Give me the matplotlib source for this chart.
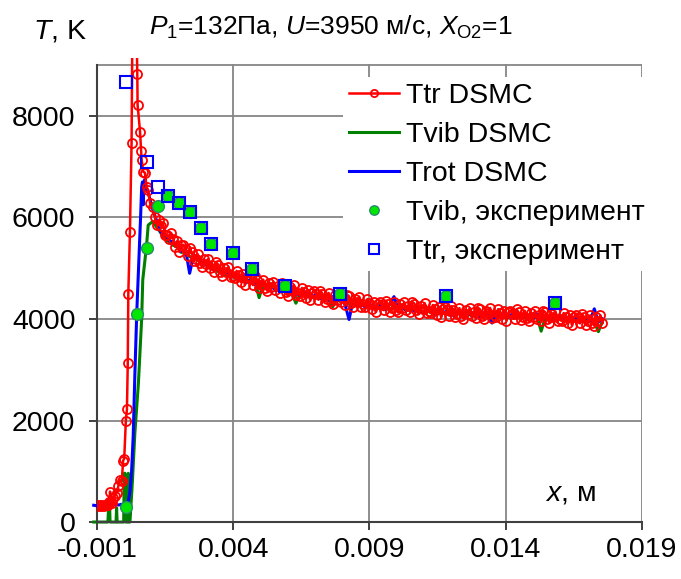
import matplotlib
matplotlib.use("Agg")
import matplotlib.pyplot as plt

plt.rcParams["font.family"] = "Liberation Sans"
plt.rcParams["mathtext.fontset"] = "custom"
plt.rcParams["mathtext.rm"] = "Liberation Sans"
plt.rcParams["mathtext.it"] = "Liberation Sans:italic"
plt.rcParams["mathtext.bf"] = "Liberation Sans:bold"

# ---------------------------------------------------------------------------
# Data
# ---------------------------------------------------------------------------

x_ticks = [-0.001, 0.004, 0.009, 0.014, 0.019]
x_tick_labels = ["-0.001", "0.004", "0.009", "0.014", "0.019"]
y_ticks = [0, 2000, 4000, 6000, 8000]
y_tick_labels = ["0", "2000", "4000", "6000", "8000"]

# shock front, Ttr DSMC
x_tr_shock = [-0.00100, -0.00095, -0.00090, -0.00085, -0.00080, -0.00075, -0.00070, -0.00065,
              -0.00060, -0.00055, -0.00052, -0.00048, -0.00044, -0.00040, -0.00034, -0.00028,
              -0.00022, -0.00015, -0.00009, -0.00004, 0.00000, 0.00006, 0.00010, 0.00013,
              0.00015, 0.00021, 0.00027, 0.00030, 0.00045, 0.00048, 0.00049, 0.00058,
              0.00062, 0.00064, 0.00070, 0.00076, 0.00082, 0.00088, 0.00095]
t_tr_shock = [330, 320, 335, 325, 330, 320, 335, 330,
              340, 390, 600, 420, 380, 470, 520, 570,
              700, 830, 800, 1210, 1250, 2000, 2220, 3130,
              4500, 5720, 7470, 9800, 9800, 8820, 8220, 7690,
              7300, 7130, 6900, 6880, 6600, 6540, 6280]

# relaxation zone, Ttr DSMC (fine cells)
x_tr_down = [
    0.001050, 0.001125, 0.001200, 0.001275, 0.001350, 0.001425, 0.001500, 0.001575,
    0.001650, 0.001725, 0.001800, 0.001875, 0.001950, 0.002025, 0.002100, 0.002175,
    0.002250, 0.002325, 0.002400, 0.002475, 0.002550, 0.002625, 0.002700, 0.002775,
    0.002850, 0.002925, 0.003000, 0.003075, 0.003150, 0.003225, 0.003300, 0.003375,
    0.003450, 0.003525, 0.003600, 0.003675, 0.003750, 0.003825, 0.003900, 0.003975,
    0.004050, 0.004125, 0.004200, 0.004275, 0.004350, 0.004425, 0.004500, 0.004575,
    0.004650, 0.004725, 0.004800, 0.004875, 0.004950, 0.005025, 0.005100, 0.005175,
    0.005250, 0.005325, 0.005400, 0.005475, 0.005550, 0.005625, 0.005700, 0.005775,
    0.005850, 0.005925, 0.006000, 0.006075, 0.006150, 0.006225, 0.006300, 0.006375,
    0.006450, 0.006525, 0.006600, 0.006675, 0.006750, 0.006825, 0.006900, 0.006975,
    0.007050, 0.007125, 0.007200, 0.007275, 0.007350, 0.007425, 0.007500, 0.007575,
    0.007650, 0.007725, 0.007800, 0.007875, 0.007950, 0.008025, 0.008100, 0.008175,
    0.008250, 0.008325, 0.008400, 0.008475, 0.008550, 0.008625, 0.008700, 0.008775,
    0.008850, 0.008925, 0.009000, 0.009075, 0.009150, 0.009225, 0.009300, 0.009375,
    0.009450, 0.009525, 0.009600, 0.009675, 0.009750, 0.009825, 0.009900, 0.009975,
    0.010050, 0.010125, 0.010200, 0.010275, 0.010350, 0.010425, 0.010500, 0.010575,
    0.010650, 0.010725, 0.010800, 0.010875, 0.010950, 0.011025, 0.011100, 0.011175,
    0.011250, 0.011325, 0.011400, 0.011475, 0.011550, 0.011625, 0.011700, 0.011775,
    0.011850, 0.011925, 0.012000, 0.012075, 0.012150, 0.012225, 0.012300, 0.012375,
    0.012450, 0.012525, 0.012600, 0.012675, 0.012750, 0.012825, 0.012900, 0.012975,
    0.013050, 0.013125, 0.013200, 0.013275, 0.013350, 0.013425, 0.013500, 0.013575,
    0.013650, 0.013725, 0.013800, 0.013875, 0.013950, 0.014025, 0.014100, 0.014175,
    0.014250, 0.014325, 0.014400, 0.014475, 0.014550, 0.014625, 0.014700, 0.014775,
    0.014850, 0.014925, 0.015000, 0.015075, 0.015150, 0.015225, 0.015300, 0.015375,
    0.015450, 0.015525, 0.015600, 0.015675, 0.015750, 0.015825, 0.015900, 0.015975,
    0.016050, 0.016125, 0.016200, 0.016275, 0.016350, 0.016425, 0.016500, 0.016575,
    0.016650, 0.016725, 0.016800, 0.016875, 0.016950, 0.017025, 0.017100, 0.017175,
    0.017250, 0.017325, 0.017400, 0.017475, 0.017550,
]
t_tr_down = [
    6210, 6000, 5850, 5950, 5840, 5890, 5650, 5650,
    5570, 5690, 5580, 5420, 5540, 5320, 5450, 5460,
    5370, 5240, 5400, 5310, 5135, 5180, 5275, 5100,
    5030, 5180, 5080, 5180, 5010, 5070, 4930, 5120,
    5070, 4925, 4840, 4995, 4930, 5025, 4820, 4855,
    4800, 4947, 4864, 4731, 4878, 4675, 4822, 4850,
    4778, 4666, 4844, 4772, 4610, 4668, 4776, 4614,
    4555, 4715, 4625, 4735, 4575, 4645, 4515, 4715,
    4675, 4537, 4459, 4621, 4563, 4665, 4467, 4509,
    4460, 4613, 4536, 4409, 4562, 4365, 4518, 4551,
    4485, 4378, 4561, 4494, 4337, 4400, 4513, 4356,
    4300, 4463, 4376, 4489, 4332, 4405, 4278, 4481,
    4445, 4308, 4231, 4394, 4337, 4440, 4243, 4286,
    4240, 4393, 4316, 4189, 4342, 4146, 4302, 4338,
    4274, 4172, 4360, 4298, 4146, 4214, 4332, 4180,
    4128, 4295, 4212, 4329, 4176, 4253, 4130, 4336,
    4302, 4168, 4094, 4260, 4206, 4312, 4118, 4164,
    4120, 4276, 4202, 4078, 4234, 4040, 4196, 4232,
    4168, 4064, 4250, 4186, 4032, 4098, 4214, 4060,
    4008, 4176, 4094, 4212, 4060, 4138, 4016, 4224,
    4192, 4061, 3990, 4160, 4109, 4218, 4027, 4076,
    4035, 4194, 4123, 4002, 4161, 3970, 4128, 4166,
    4104, 4002, 4190, 4128, 3976, 4044, 4162, 4010,
    3958, 4125, 4042, 4159, 4006, 4083, 3960, 4167,
    4134, 4001, 3928, 4095, 4042, 4149, 3956, 4003,
    3960, 4117, 4044, 3921, 4078, 3885, 4042, 4079,
    4016, 3913, 4100, 4038, 3886, 3954, 4072, 3920,
    3868, 4036, 3954, 4072, 3920,
]

# shock front, Trot DSMC
x_rot_shock = [-0.00112, -0.00100, -0.00090, -0.00080, -0.00070, -0.00060, -0.00050, -0.00040,
               -0.00030, -0.00020, -0.00010, 0.00000, 0.00008, 0.00015, 0.00021, 0.00027,
               0.00033, 0.00039, 0.00046, 0.00055, 0.00060, 0.00064, 0.00067, 0.00070,
               0.00072, 0.00076, 0.00082, 0.00088, 0.00095]
t_rot_shock = [330, 320, 335, 330, 325, 330, 340, 330,
               345, 335, 350, 330, 340, 400, 600, 1000,
               1700, 2900, 4120, 5300, 6000, 6600, 6700, 6250,
               6650, 6750, 6560, 6480, 6350]

# shock front, Tvib DSMC
x_vib_shock = [-0.00112, -0.00060, -0.00056, -0.00054, -0.00052, -0.00030, -0.00028, -0.00026,
               -0.00002, 0.00000, 0.00003, 0.00005, 0.00013, 0.00015, 0.00017, 0.00021,
               0.00030, 0.00039, 0.00052, 0.00064, 0.00068, 0.00082, 0.00088, 0.00095]
t_vib_shock = [0, 0, 400, 400, 0, 0, 280, 0,
               0, 960, 960, 0, 0, 960, 0, 0,
               800, 1750, 2730, 4000, 4770, 5450, 5850, 5880]

# relaxation zone, Trot and Tvib DSMC
x_down = [
    0.00105, 0.00120, 0.00135, 0.00150, 0.00165, 0.00180, 0.00195, 0.00210, 0.00225, 0.00240,
    0.00255, 0.00270, 0.00285, 0.00300, 0.00315, 0.00330, 0.00345, 0.00360, 0.00375, 0.00390,
    0.00405, 0.00420, 0.00435, 0.00450, 0.00465, 0.00480, 0.00495, 0.00510, 0.00525, 0.00540,
    0.00555, 0.00570, 0.00585, 0.00600, 0.00615, 0.00630, 0.00645, 0.00660, 0.00675, 0.00690,
    0.00705, 0.00720, 0.00735, 0.00750, 0.00765, 0.00780, 0.00795, 0.00810, 0.00825, 0.00840,
    0.00855, 0.00870, 0.00885, 0.00900, 0.00915, 0.00930, 0.00945, 0.00960, 0.00975, 0.00990,
    0.01005, 0.01020, 0.01035, 0.01050, 0.01065, 0.01080, 0.01095, 0.01110, 0.01125, 0.01140,
    0.01155, 0.01170, 0.01185, 0.01200, 0.01215, 0.01230, 0.01245, 0.01260, 0.01275, 0.01290,
    0.01305, 0.01320, 0.01335, 0.01350, 0.01365, 0.01380, 0.01395, 0.01410, 0.01425, 0.01440,
    0.01455, 0.01470, 0.01485, 0.01500, 0.01515, 0.01530, 0.01545, 0.01560, 0.01575, 0.01590,
    0.01605, 0.01620, 0.01635, 0.01650, 0.01665, 0.01680, 0.01695, 0.01710, 0.01725, 0.01740,
    0.01755,
]
t_rot_down = [
    6150, 5920, 5700, 5660, 5540, 5520, 5470, 5330, 5370, 4900,
    5260, 5210, 5100, 5060, 5090, 4960, 5050, 4900, 4950, 4820,
    4890, 4770, 4840, 4720, 4790, 4680, 4740, 4700, 4610, 4680,
    4560, 4640, 4600, 4490, 4580, 4500, 4470, 4550, 4440, 4420,
    4500, 4400, 4470, 4370, 4440, 4360, 4400, 4290, 3990, 4360,
    4270, 4300, 4230, 4310, 4200, 4280, 4240, 4180, 4300, 4440,
    4200, 4250, 4160, 4270, 4150, 4220, 4120, 4200, 4150, 4090,
    4190, 4110, 4160, 4060, 4150, 4100, 4040, 4140, 4070, 4120,
    4040, 4130, 4060, 3920, 4120, 4050, 4100, 4030, 4110, 4020,
    4090, 4040, 4070, 4010, 4100, 4000, 4060, 3990, 4080, 4010,
    4040, 3970, 4050, 3980, 4030, 3950, 4020, 3970, 4200, 3940,
    4000,
]
t_vib_down = [
    5920, 5800, 5690, 5560, 5520, 5450, 5420, 5310, 5340, 5230,
    5200, 5160, 5080, 5120, 5010, 5040, 4930, 4960, 4850, 4900,
    4810, 4830, 4760, 4780, 4700, 4730, 4420, 4690, 4620, 4650,
    4580, 4610, 4540, 4570, 4510, 4310, 4490, 4460, 4480, 4420,
    4450, 4400, 4420, 4380, 4240, 4390, 4340, 4360, 4300, 4330,
    4270, 4310, 4250, 4280, 4230, 4270, 4210, 4260, 4200, 4240,
    4190, 4230, 4170, 4220, 4160, 4200, 4140, 4180, 4120, 4170,
    4110, 4150, 4090, 4140, 4080, 4120, 4070, 4110, 4060, 4100,
    4050, 4090, 4060, 4080, 4040, 4090, 4030, 4070, 4050, 4020,
    4060, 4030, 4070, 4010, 4050, 3760, 4020, 4040, 3990, 4030,
    3980, 4010, 3970, 4000, 3960, 3990, 3950, 3980, 3940, 3750,
    3960,
]

# experiment
x_vib_exp = [0.00006, 0.00046, 0.00082, 0.00124, 0.00160, 0.00200, 0.00240, 0.00280,
             0.00320, 0.00400, 0.00470, 0.00590, 0.00790, 0.01180, 0.01580]
t_vib_exp = [300, 4100, 5390, 6230, 6430, 6280, 6110, 5790,
             5480, 5290, 4990, 4640, 4500, 4450, 4310]
x_tr_exp = [0.00006, 0.00082, 0.00124, 0.00160, 0.00200, 0.00240, 0.00280,
            0.00320, 0.00400, 0.00470, 0.00590, 0.00790, 0.01180, 0.01580]
t_tr_exp = [8670, 7090, 6600, 6430, 6280, 6110, 5790,
            5480, 5290, 4990, 4640, 4500, 4450, 4310]

# ---------------------------------------------------------------------------
# Figure
# ---------------------------------------------------------------------------

FS = 20.5
GRID = "#868686"
AXIS = "#404040"

fig = plt.figure(figsize=(6.81, 5.79), dpi=100)
ax = fig.add_axes([0.1424, 0.0984, 0.8003, 0.8022])
ax.set_xlim(x_ticks[0], x_ticks[-1])
ax.set_ylim(0, 9150)

# Excel-like grid, plot area ends at 9000
for xv in x_ticks[1:]:
    ax.plot([xv, xv], [0, 9000], color=GRID, lw=1.3, zorder=1)
for yv in y_ticks[1:] + [9000]:
    ax.plot([x_ticks[0], x_ticks[-1]], [yv, yv], color=GRID, lw=1.3, zorder=1)

ax.spines[["top", "right"]].set_visible(False)
ax.spines["left"].set_bounds(0, 9000)
for s in ("left", "bottom"):
    ax.spines[s].set_color(AXIS)
    ax.spines[s].set_linewidth(1.5)

ax.set_xticks(x_ticks, x_tick_labels)
ax.set_yticks(y_ticks, y_tick_labels)
ax.tick_params(direction="out", length=5.5, width=1.4, colors=AXIS,
               labelcolor="black", labelsize=FS)
ax.tick_params(axis="x", pad=5)
ax.tick_params(axis="y", pad=10)

ax.plot(x_tr_shock + x_tr_down, t_tr_shock + t_tr_down, color="#ff0000", lw=1.8,
        marker="o", ms=6.5, mfc="none", mec="#ff0000", mew=1.3, zorder=4,
        label="Ttr DSMC")
ax.plot(x_vib_shock + x_down, t_vib_shock + t_vib_down, color="#008000", lw=2.2,
        zorder=2, clip_on=False, label="Tvib DSMC")
ax.plot(x_rot_shock + x_down, t_rot_shock + t_rot_down, color="#0000ff", lw=2.2,
        zorder=3, clip_on=False, label="Trot DSMC")
ax.plot(x_vib_exp, t_vib_exp, ls="none", marker="o", ms=8.5, mfc="#00e600",
        mec="#2a8a6a", mew=1.0, zorder=5, label="Tvib, эксперимент")
ax.plot(x_tr_exp, t_tr_exp, ls="none", marker="s", ms=9, mfc="none",
        mec="#0000ff", mew=1.5, zorder=6, label="Ttr, эксперимент")

ax.legend(loc="upper left", bbox_to_anchor=(343 / 681, 1 - 77 / 579),
          bbox_transform=fig.transFigure, fontsize=FS, frameon=True,
          fancybox=False, edgecolor="none", facecolor="white", framealpha=1,
          borderpad=0.2, borderaxespad=0, handlelength=1.75,
          handletextpad=0.25, labelspacing=0.46, markerscale=0.8)

fig.text(331 / 681, 1 - 35 / 579,
         r"$P_1$=132Па, $U$=3950 м/с, $X_{\mathrm{O2}}$=1",
         ha="center", va="baseline", fontsize=19)
fig.text(33 / 681, 1 - 38 / 579, r"$T$, K", ha="left", va="baseline", fontsize=FS)
ax.text(0.01544, 430, r"$x$, м", ha="left", va="baseline", fontsize=FS)

fig.savefig("out.png", dpi=100)
